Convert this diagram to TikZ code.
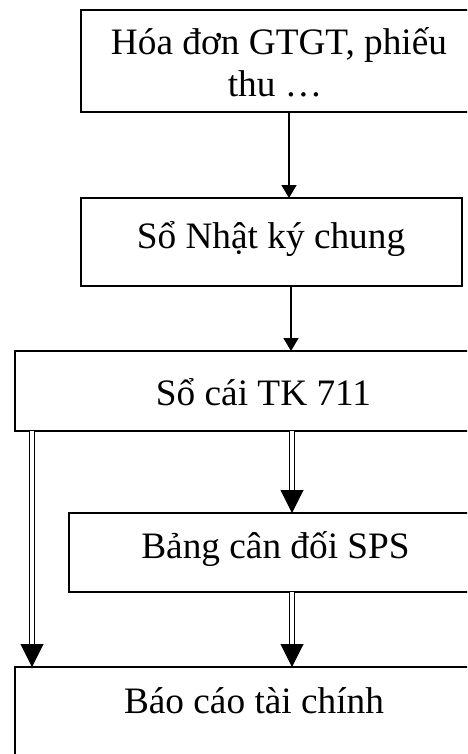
\documentclass[tikz,border=0pt]{standalone}
\usepackage{fontspec}
\setmainfont{Liberation Serif}
\usetikzlibrary{arrows.meta,calc}
\begin{document}
\begin{tikzpicture}[x=1pt,y=1pt,
  boxn/.style={draw,line width=1.6pt,anchor=north west,inner sep=0pt,outer sep=0pt},
  lbl/.style={anchor=base,inner sep=0pt,font=\fontsize{37.3}{43}\selectfont},
  arr/.style={line width=1.6pt,-{Triangle[width=15pt,length=13pt]}},
  dbl/.style={double,line width=1.3pt,double distance=4pt},
  dtip/.style={line width=1pt,-{Triangle[width=23pt,length=23pt]}}]
\useasboundingbox (0,0) rectangle (467,-754);
\clip (0,0) rectangle (467,-754);
% boxes
\node[boxn,minimum width=396pt,minimum height=102pt] (b1) at (81,-10) {};
\node[boxn,minimum width=381pt,minimum height=88pt] (b2) at (81,-198) {};
\node[boxn,minimum width=497pt,minimum height=80pt] (b3) at (15,-351) {};
\node[boxn,minimum width=413pt,minimum height=79pt] (b4) at (69,-513) {};
\node[boxn,minimum width=478pt,minimum height=100pt] (b5) at (15,-667) {};
% texts
\node[lbl] (t1a) at (279,-55) {Hóa đơn GTGT, phiếu};
\node[lbl] (t1b) at (275,-97) {thu …};
\node[lbl] (t2) at (271,-248) {Sổ Nhật ký chung};
\node[lbl] (t3) at (263.5,-405) {Sổ cái TK 711};
\node[lbl] (t4) at (275.5,-558) {Bảng cân đối SPS};
\node[lbl] (t5) at (254,-713) {Báo cáo tài chính};
% x positions of connectors
\coordinate (x1) at (289,0);
\coordinate (x2) at (291,0);
\coordinate (xl) at (32,0);
\coordinate (xm) at (292,0);
% single arrows
\draw[arr] (b1.south -| x1) -- (b2.north -| x1);
\draw[arr] (b2.south -| x2) -- (b3.north -| x2);
% double arrows
\coordinate (d1e) at ($(b5.north -| xl)+(0,22)$);
\coordinate (d2e) at ($(b4.north -| xm)+(0,22)$);
\coordinate (d3e) at ($(b5.north -| xm)+(0,22)$);
\draw[dbl] (b3.south -| xl) -- (d1e);
\draw[dtip] ($(d1e)+(0,1)$) -- (b5.north -| xl);
\draw[dbl] (b3.south -| xm) -- (d2e);
\draw[dtip] ($(d2e)+(0,1)$) -- (b4.north -| xm);
\draw[dbl] (b4.south -| xm) -- (d3e);
\draw[dtip] ($(d3e)+(0,1)$) -- (b5.north -| xm);
\end{tikzpicture}
\end{document}
